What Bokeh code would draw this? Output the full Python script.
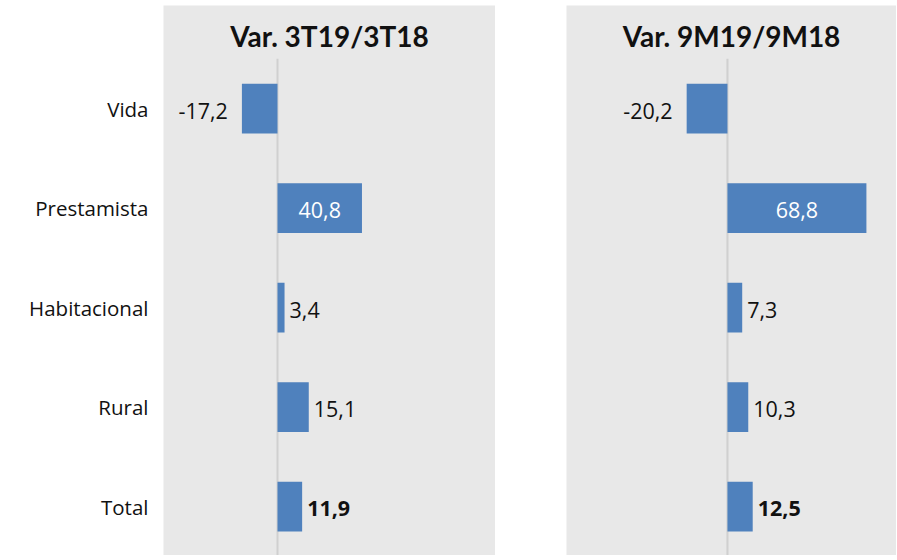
from bokeh.plotting import figure
from bokeh.models import Range1d, Label, ColumnDataSource, FixedTicker
from bokeh.layouts import row
from bokeh.core.properties import value
from bokeh.embed import file_html
from bokeh.resources import INLINE

categories = ["Vida", "Prestamista", "Habitacional", "Rural", "Total"]
var_3t = [-17.2, 40.8, 3.4, 15.1, 11.9]
var_9m = [-20.2, 68.8, 7.3, 10.3, 12.5]
titles = ["Var. 3T19/3T18", "Var. 9M19/9M18"]

BAR = "#4f81bd"
BG = "#e8e8e8"
FONT = "Open Sans"
TFONT = "Lato"
Y_TOP, Y_BOTTOM = -1.035, 4.49


def fmt(v):
    return f"{v:.1f}".replace(".", ",")


def make_panel(title, values, x_start, x_end, width, border_left, show_axis):
    p = figure(width=width, height=555,
               x_range=Range1d(x_start, x_end), y_range=Range1d(Y_BOTTOM, Y_TOP),
               output_backend="svg", toolbar_location=None,
               x_axis_location=None, y_axis_location="left" if show_axis else None,
               min_border_left=border_left, min_border_right=0,
               min_border_top=5, min_border_bottom=0,
               background_fill_color=BG, border_fill_color="white",
               outline_line_color=None)
    p.xgrid.visible = False
    p.ygrid.visible = False
    idx = list(range(len(categories)))
    if show_axis:
        ax = p.yaxis[0]
        ax.ticker = FixedTicker(ticks=idx)
        ax.major_label_overrides = {i: c for i, c in zip(idx, categories)}
        ax.axis_line_color = None
        ax.major_tick_line_color = None
        ax.minor_tick_line_color = None
        ax.major_label_standoff = 9
        ax.major_label_text_font = FONT
        ax.major_label_text_font_size = "20.5px"
        ax.major_label_text_color = "#111111"

    p.segment(x0=0, y0=-0.5, x1=0, y1=Y_BOTTOM, line_color="#d0d0d0", line_width=2)
    p.hbar(y=idx, left=0, right=values, height=0.5, fill_color=BAR, line_color=None)

    lx, align, color, style, xoff = [], [], [], [], []
    for i, v in enumerate(values):
        if v < 0:
            lx.append(v); align.append("right"); color.append("#111111"); xoff.append(-14)
        elif v > 35:
            lx.append(v / 2); align.append("center"); color.append("white"); xoff.append(0)
        else:
            lx.append(v); align.append("left"); color.append("#111111"); xoff.append(5)
        style.append("bold" if categories[i] == "Total" else "normal")
    src = ColumnDataSource(dict(x=lx, y=idx, t=[fmt(v) for v in values],
                                align=align, color=color, style=style, xoff=xoff))
    p.text(x="x", y="y", text="t", source=src, text_align="align", text_color="color",
           text_font_style="style", x_offset="xoff", y_offset=2,
           text_baseline="middle", text_font=value(FONT), text_font_size=value("21.5px"))

    p.add_layout(Label(x=(x_start + x_end) / 2, y=-0.73, text=title,
                       text_align="center", text_baseline="middle",
                       text_font=TFONT, text_font_style="bold", text_font_size="28px",
                       text_color="#111111"))
    return p


p1 = make_panel(titles[0], var_3t, -55.07, 105.3, 495, 163, True)
p2 = make_panel(titles[1], var_9m, -79.7, 83.7, 401, 71, False)
layout = row(p1, p2, spacing=0)

open("out.html", "w").write(file_html(layout, INLINE))
